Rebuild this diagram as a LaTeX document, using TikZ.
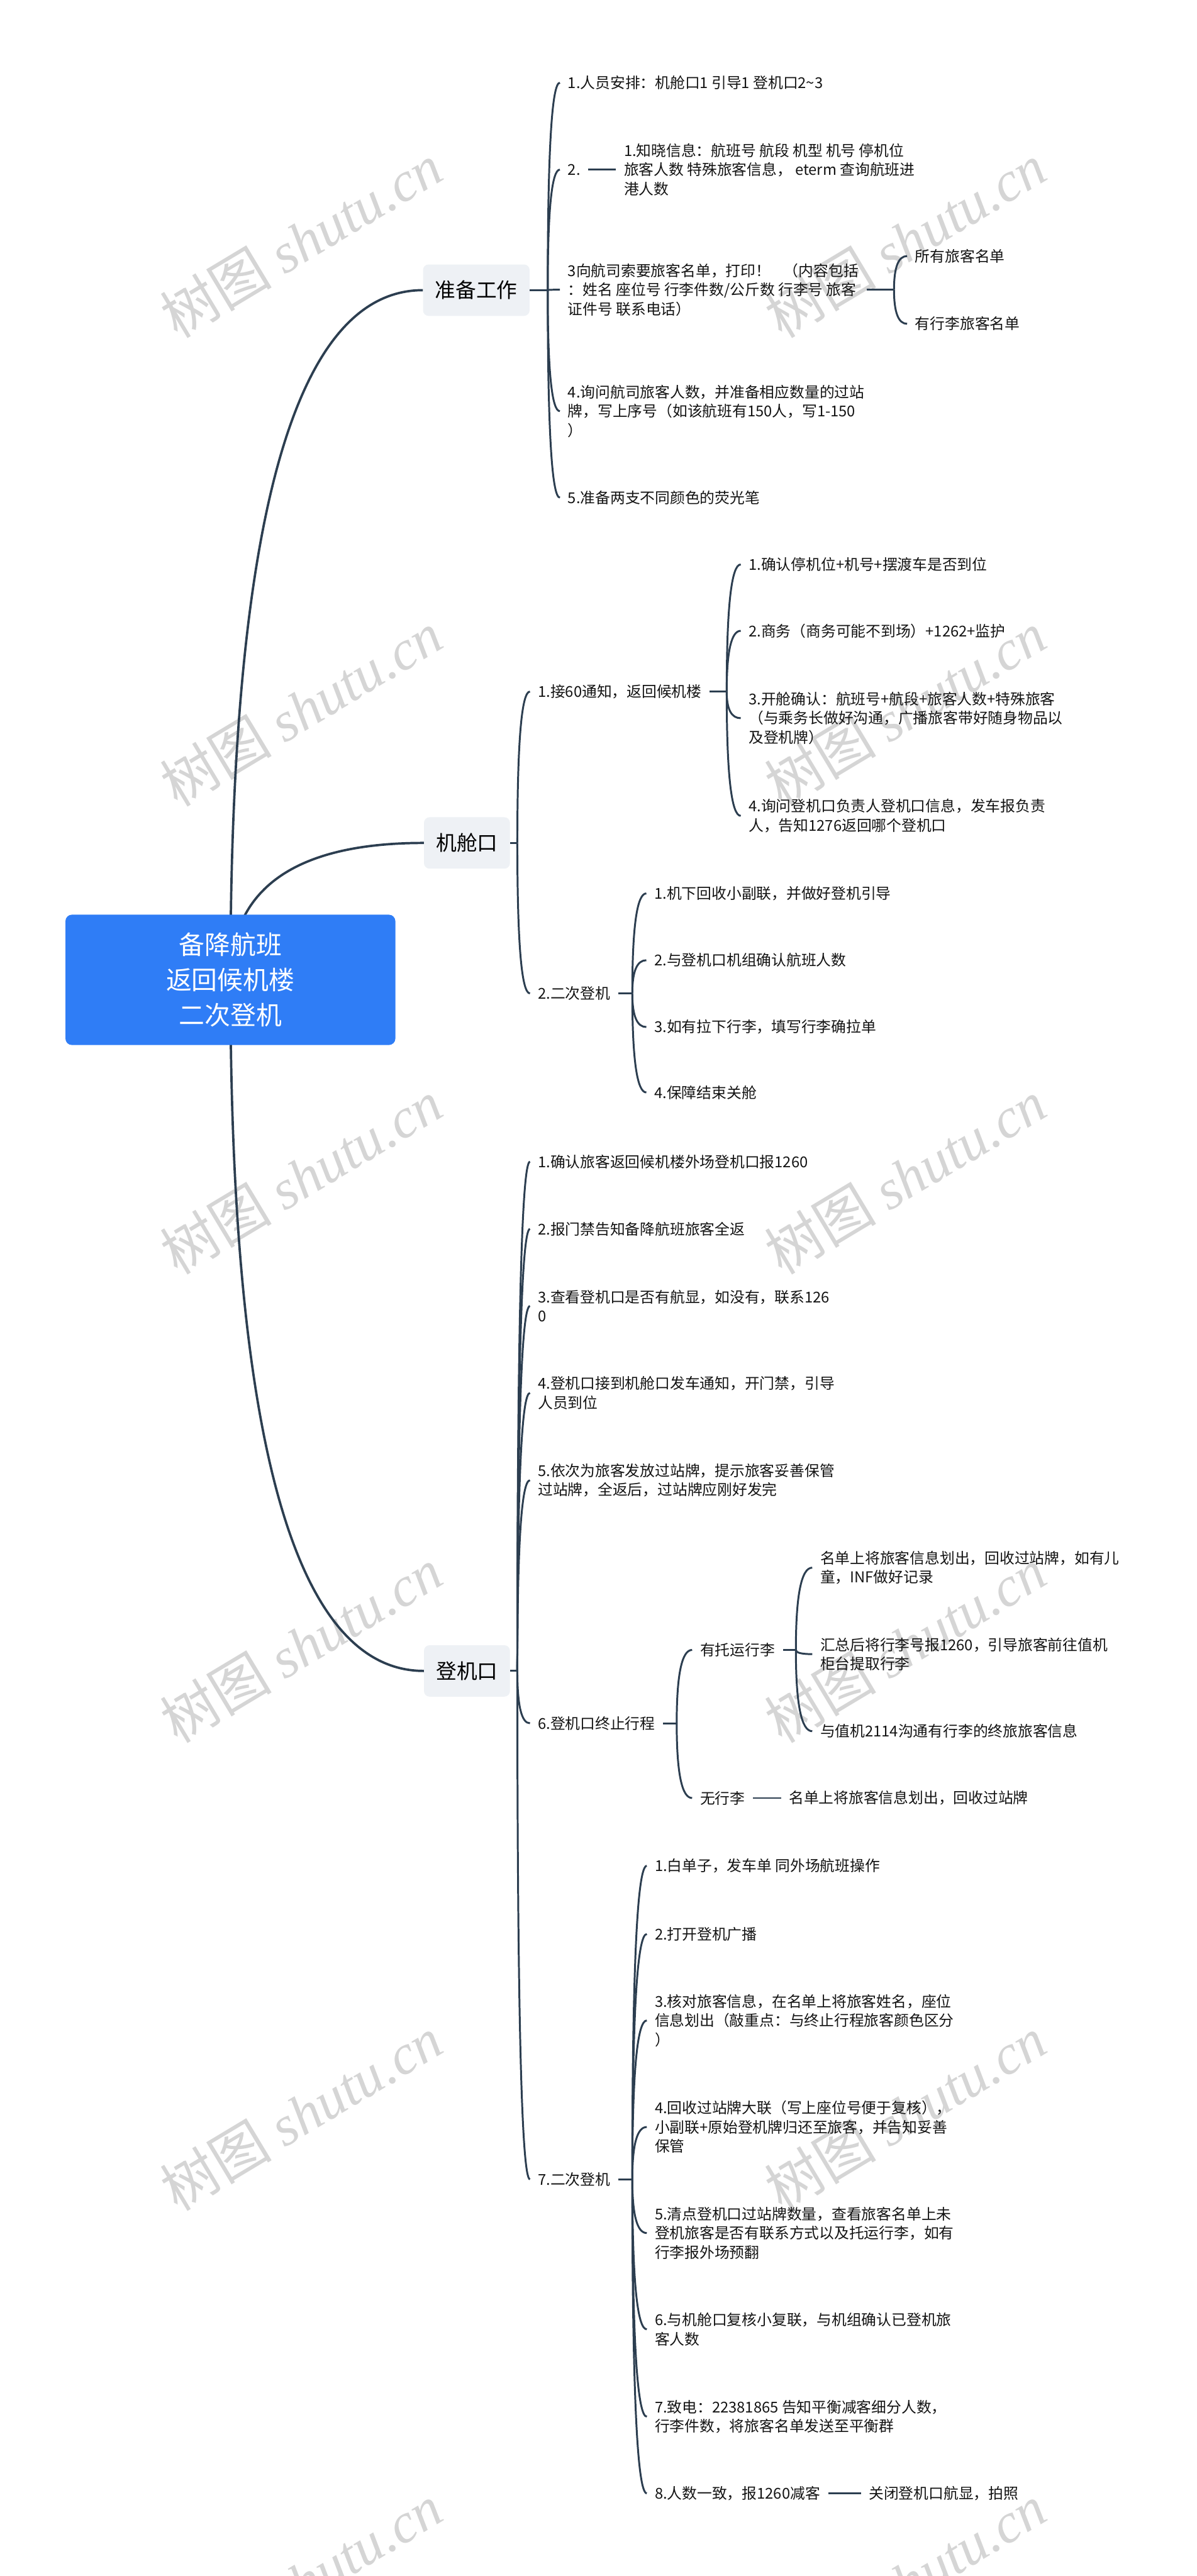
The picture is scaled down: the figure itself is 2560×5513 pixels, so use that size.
\documentclass[tikz,border=0pt]{standalone}
\usepackage{fontspec}
\setmainfont{Noto Sans CJK SC}
\newfontfamily\wmlat{Liberation Serif}
\usetikzlibrary{calc}
\definecolor{lc}{RGB}{44,62,80}
\definecolor{rootblue}{RGB}{47,125,246}
\definecolor{brfill}{RGB}{238,241,245}
\definecolor{wm}{RGB}{213,213,213}
\definecolor{tx}{RGB}{20,20,20}
\pgfdeclarelayer{bg}
\pgfsetlayers{bg,main}
\begin{document}
\begin{tikzpicture}[x=1pt,y=-1pt,
  txt/.style={anchor=west, inner xsep=17pt, inner ysep=3pt, align=left, text=tx, font=\fontsize{32}{41}\selectfont},
  branch/.style={fill=brfill, rounded corners=12pt, inner xsep=26pt, inner ysep=0pt, minimum height=110pt, text=black, font=\fontsize{44}{52}\selectfont},
  rootbox/.style={fill=rootblue, rounded corners=14pt, minimum width=706pt, minimum height=279pt, align=center, text=white, font=\fontsize{55}{75}\selectfont},
  link/.style={draw=lc, line width=4pt},
  rlink/.style={draw=lc, line width=5pt},
  qc/.style={to path={let \p1=(\tikztostart), \p2=(\tikztotarget) in .. controls (\x1,{\y1+0.6667*(\y2-\y1)}) and ({\x2+0.6667*(\x1-\x2)},\y2) .. (\tikztotarget)}},
  wmk/.style={text=wm, rotate=31, inner sep=0pt, font=\fontsize{120}{120}\selectfont}
]
\useasboundingbox (0,0) rectangle (2560,5513);

% root and branches
\node[rootbox] (root) at (493,2097) {备降航班\\返回候机楼\\二次登机};
\coordinate (rc) at (493,2097);
\node[branch, anchor=west] (b1) at (905,621) {准备工作};
\node[branch, anchor=west] (b2) at (907,1804) {机舱口};
\node[branch, anchor=west] (b3) at (907,3576) {登机口};
\coordinate (s1) at (1172,621);
\coordinate (s2) at (1107,1804);
\coordinate (s3) at (1107,3576);

% 准备工作
\node[txt] (c11) at (1198,177) {1.人员安排：机舱口1 引导1 登机口2\textasciitilde3};
\node[txt] (c12) at (1198,363) {2.};
\node[txt] (c121) at (1318,363) {1.知晓信息：航班号 航段 机型 机号 停机位\\旅客人数 特殊旅客信息， eterm 查询航班进\\港人数};
\node[txt] (c13) at (1198,620) {3向航司索要旅客名单，打印！\hspace{28pt}（内容包括\\：姓名 座位号 行李件数/公斤数 行李号 旅客\\证件号 联系电话）};
\coordinate (s13) at (1913,620);
\node[txt] (c131) at (1941,548) {所有旅客名单};
\node[txt] (c132) at (1941,693) {有行李旅客名单};
\node[txt] (c14) at (1198,880) {4.询问航司旅客人数，并准备相应数量的过站\\牌，写上序号（如该航班有150人，写1-150\\）};
\node[txt] (c15) at (1198,1065) {5.准备两支不同颜色的荧光笔};

% 机舱口
\node[txt] (c21) at (1134,1480) {1.接60通知，返回候机楼};
\coordinate (s21) at (1555,1480);
\node[txt] (c211) at (1585,1208) {1.确认停机位+机号+摆渡车是否到位};
\node[txt] (c212) at (1585,1350) {2.商务（商务可能不到场）+1262+监护};
\node[txt] (c213) at (1585,1537) {3.开舱确认：航班号+航段+旅客人数+特殊旅客\\（与乘务长做好沟通，广播旅客带好随身物品以\\及登机牌）};
\node[txt] (c214) at (1585,1746) {4.询问登机口负责人登机口信息，发车报负责\\人，告知1276返回哪个登机口};
\node[txt] (c22) at (1134,2126) {2.二次登机};
\coordinate (s22) at (1353,2126);
\node[txt] (c221) at (1383,1912) {1.机下回收小副联，并做好登机引导};
\node[txt] (c222) at (1383,2055) {2.与登机口机组确认航班人数};
\node[txt] (c223) at (1383,2198) {3.如有拉下行李，填写行李确拉单};
\node[txt] (c224) at (1383,2338) {4.保障结束关舱};

% 登机口
\node[txt] (c31) at (1134,2486) {1.确认旅客返回候机楼外场登机口报1260};
\node[txt] (c32) at (1134,2630) {2.报门禁告知备降航班旅客全返};
\node[txt] (c33) at (1134,2795) {3.查看登机口是否有航显，如没有，联系126\\0};
\node[txt] (c34) at (1134,2981) {4.登机口接到机舱口发车通知，开门禁，引导\\人员到位};
\node[txt] (c35) at (1134,3168) {5.依次为旅客发放过站牌，提示旅客妥善保管\\过站牌，全返后，过站牌应刚好发完};
\node[txt] (c36) at (1134,3688) {6.登机口终止行程};
\coordinate (s36) at (1448,3688);
\node[txt] (c361) at (1481,3531) {有托运行李};
\coordinate (s361) at (1703,3531);
\node[txt] (c3611) at (1738,3355) {名单上将旅客信息划出，回收过站牌，如有儿\\童，INF做好记录};
\node[txt] (c3612) at (1738,3540) {汇总后将行李号报1260，引导旅客前往值机\\柜台提取行李};
\node[txt] (c3613) at (1738,3705) {与值机2114沟通有行李的终旅旅客信息};
\node[txt] (c362) at (1481,3848) {无行李};
\node[txt] (c3621) at (1671,3848) {名单上将旅客信息划出，回收过站牌};
\node[txt] (c37) at (1134,4664) {7.二次登机};
\coordinate (s37) at (1353,4664);
\node[txt] (c371) at (1384,3993) {1.白单子，发车单 同外场航班操作};
\node[txt] (c372) at (1384,4139) {2.打开登机广播};
\node[txt] (c373) at (1384,4324) {3.核对旅客信息，在名单上将旅客姓名，座位\\信息划出（敲重点：与终止行程旅客颜色区分\\）};
\node[txt] (c374) at (1384,4552) {4.回收过站牌大联（写上座位号便于复核），\\小副联+原始登机牌归还至旅客，并告知妥善\\保管};
\node[txt] (c375) at (1384,4779) {5.清点登机口过站牌数量，查看旅客名单上未\\登机旅客是否有联系方式以及托运行李，如有\\行李报外场预翻};
\node[txt] (c376) at (1384,4985) {6.与机舱口复核小复联，与机组确认已登机旅\\客人数};
\node[txt] (c377) at (1384,5172) {7.致电：22381865 告知平衡减客细分人数，\\行李件数，将旅客名单发送至平衡群};
\node[txt] (c378) at (1384,5336) {8.人数一致，报1260减客};
\node[txt] (c3781) at (1842,5336) {关闭登机口航显，拍照};

\begin{pgfonlayer}{bg}
\fill[white] (0,0) rectangle (2560,5513);
% watermarks
\foreach \wy in {515,1517,2519,3521,4523,5525} {
  \node[wmk] at (644,\wy) {树图 {\wmlat\itshape shutu.cn}};
  \node[wmk] at (1937,\wy) {树图 {\wmlat\itshape shutu.cn}};
}
% root links
\draw[rlink] (rc) to[qc] (b1.west);
\draw[rlink] (rc) to[qc] (b2.west);
\draw[rlink] (rc) to[qc] (b3.west);
% 准备工作
\draw[link] (b1.east) -- (s1);
\foreach \c in {c11,c12,c13,c14,c15} \draw[link] (s1) to[qc] (\c.west);
\draw[link] (c12.east) -- (c121.west);
\draw[link] (c13.east) -- (s13);
\foreach \c in {c131,c132} \draw[link] (s13) to[qc] (\c.west);
% 机舱口
\draw[link] (b2.east) -- (s2);
\foreach \c in {c21,c22} \draw[link] (s2) to[qc] (\c.west);
\draw[link] (c21.east) -- (s21);
\foreach \c in {c211,c212,c213,c214} \draw[link] (s21) to[qc] (\c.west);
\draw[link] (c22.east) -- (s22);
\foreach \c in {c221,c222,c223,c224} \draw[link] (s22) to[qc] (\c.west);
% 登机口
\draw[link] (b3.east) -- (s3);
\foreach \c in {c31,c32,c33,c34,c35,c36,c37} \draw[link] (s3) to[qc] (\c.west);
\draw[link] (c36.east) -- (s36);
\foreach \c in {c361,c362} \draw[link] (s36) to[qc] (\c.west);
\draw[link] (c361.east) -- (s361);
\foreach \c in {c3611,c3612,c3613} \draw[link] (s361) to[qc] (\c.west);
\draw[link] (c362.east) -- (c3621.west);
\draw[link] (c37.east) -- (s37);
\foreach \c in {c371,c372,c373,c374,c375,c376,c377,c378} \draw[link] (s37) to[qc] (\c.west);
\draw[link] (c378.east) -- (c3781.west);
\end{pgfonlayer}
\end{tikzpicture}
\end{document}
